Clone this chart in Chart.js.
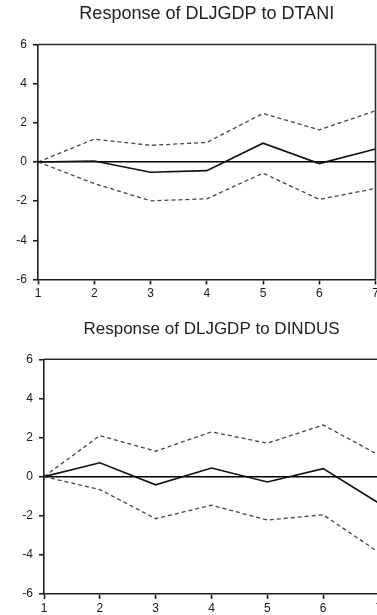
<!DOCTYPE html>
<html>
<head>
<meta charset="utf-8">
<script src="https://cdn.jsdelivr.net/npm/chart.js@4"></script>
<style>
  html, body { margin: 0; padding: 0; background: #fff; }
  body { width: 377px; height: 615px; overflow: hidden; position: relative; }
  #wrapTop { position: absolute; left: 0; top: 0; width: 377px; height: 305px; overflow: hidden; }
  #wrapBot { position: absolute; left: 0; top: 305px; width: 377px; height: 310px; overflow: hidden; }
  canvas { display: block; }
</style>
</head>
<body>
<div id="wrapTop"><canvas id="cTop" width="377" height="305"></canvas></div>
<div id="wrapBot"><canvas id="cBot" width="385" height="310"></canvas></div>
<script>
// ---- data ----
const periods = ['1', '2', '3', '4', '5', '6', '7'];
const yTicks = [-6, -4, -2, 0, 2, 4, 6];

const taniTitle = 'Response of DLJGDP to DTANI';
const taniResponse = [0, 0.05, -0.52, -0.44, 0.96, -0.08, 0.66];
const taniUpper    = [0, 1.17, 0.85, 1.00, 2.48, 1.64, 2.62];
const taniLower    = [0, -1.10, -1.98, -1.88, -0.57, -1.91, -1.35];

const indusTitle = 'Response of DLJGDP to DINDUS';
const indusResponse = [0, 0.71, -0.42, 0.44, -0.27, 0.41, -1.36];
const indusUpper    = [0, 2.10, 1.30, 2.29, 1.71, 2.64, 1.10];
const indusLower    = [0, -0.66, -2.15, -1.46, -2.22, -1.95, -3.88];

// ---- styles ----
const FONT = "'Liberation Sans', Arial, sans-serif";
const AXIS_COLOR = '#1e1e1e';

const framePlugin = {
  id: 'frame',
  afterDatasetsDraw(chart) {
    const a = chart.chartArea, ctx = chart.ctx;
    ctx.save();
    ctx.strokeStyle = '#2a2a2a';
    ctx.lineWidth = 1.6;
    ctx.beginPath();
    ctx.moveTo(a.left, a.top);
    ctx.lineTo(a.right, a.top);
    ctx.lineTo(a.right, a.bottom);
    ctx.stroke();
    ctx.restore();
  }
};

function makeChart(id, title, resp, upper, lower, L) {
  const band = (data) => ({
    data: data, borderColor: '#444', borderWidth: 1.3, borderDash: [4, 3],
    pointRadius: 0, tension: 0, fill: false
  });
  return new Chart(document.getElementById(id), {
    type: 'line',
    data: {
      labels: periods,
      datasets: [
        { data: resp, borderColor: '#111', borderWidth: 1.6, pointRadius: 0, tension: 0, fill: false },
        band(upper),
        band(lower)
      ]
    },
    options: {
      responsive: false,
      animation: false,
      devicePixelRatio: 1,
      layout: { padding: { left: 0, right: L.padRight, top: 0, bottom: 0 } },
      plugins: {
        legend: { display: false },
        tooltip: { enabled: false },
        title: {
          display: true, text: title, fullSize: false,
          color: '#222',
          font: { family: FONT, size: L.titleSize, weight: 'normal', lineHeight: 1.2 },
          padding: { top: L.titleTop, bottom: L.titleBottom }
        }
      },
      scales: {
        x: {
          type: 'category',
          offset: false,
          grid: { display: true, drawOnChartArea: false, drawTicks: true, tickLength: 5, tickColor: AXIS_COLOR, tickWidth: 1.6 },
          border: { display: true, color: AXIS_COLOR, width: 1.6 },
          ticks: { color: '#1a1a1a', font: { family: FONT, size: 12 }, padding: 2, maxRotation: 0, autoSkip: false },
          afterFit(s) { s.height = L.xHeight; s.paddingLeft = 0; s.paddingRight = 0; }
        },
        y: {
          type: 'linear', min: -6, max: 6,
          afterBuildTicks(s) { s.ticks = yTicks.map(v => ({ value: v })); },
          grid: {
            display: true, drawOnChartArea: true, drawTicks: true, tickLength: 5,
            color: (c) => (c.tick && c.tick.value === 0) ? '#000' : 'rgba(0,0,0,0)',
            lineWidth: 1.5,
            tickColor: AXIS_COLOR, tickWidth: 1.6
          },
          border: { display: true, color: AXIS_COLOR, width: 1.6 },
          ticks: { color: '#1a1a1a', font: { family: FONT, size: 12 }, padding: 6 },
          afterFit(s) { s.width = L.yWidth; }
        }
      }
    },
    plugins: [framePlugin]
  });
}

makeChart('cTop', taniTitle, taniResponse, taniUpper, taniLower,
  { padRight: 1.5, titleSize: 18, titleTop: 3.5, titleBottom: 19.4, xHeight: 25.5, yWidth: 38 });
makeChart('cBot', indusTitle, indusResponse, indusUpper, indusLower,
  { padRight: 6, titleSize: 17, titleTop: 13.8, titleBottom: 20.1, xHeight: 21, yWidth: 44 });
</script>
</body>
</html>
